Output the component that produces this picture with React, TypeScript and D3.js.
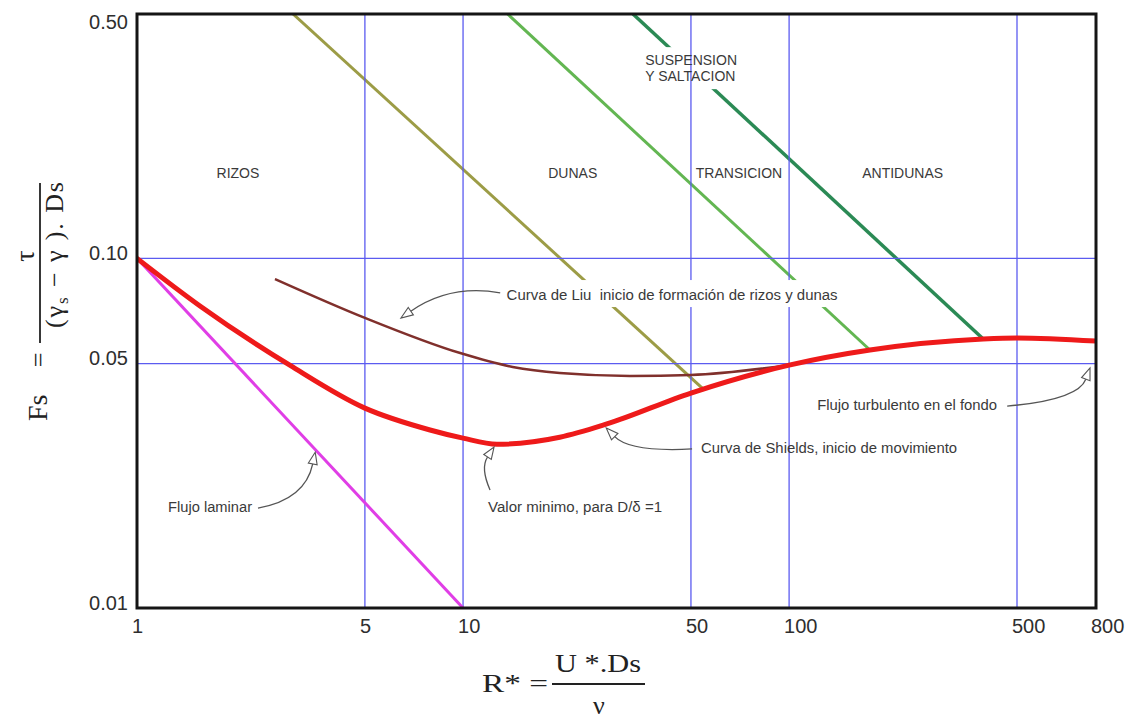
import React from 'react';
import * as d3 from 'd3';

// ---------- data (R* , Fs) ----------
const X_TICKS = [1, 5, 10, 50, 100, 500, 800];
const X_TICK_LABELS = ['1', '5', '10', '50', '100', '500', '800'];
const X_GRID = [5, 10, 50, 100, 500];
const Y_TICKS = [0.5, 0.1, 0.05, 0.01];
const Y_TICK_LABELS = ['0.50', '0.10', '0.05', '0.01'];
const Y_GRID = [0.1, 0.05];

// Curva de Shields (inicio de movimiento)
const shields: [number, number][] = [
  [1, 0.1], [1.56, 0.0731], [2.95, 0.0494], [5, 0.0373], [7.92, 0.0323],
  [10, 0.0306], [12.7, 0.0294], [19.8, 0.0308], [27.6, 0.0336], [50, 0.0412],
  [100, 0.0495], [177, 0.0547], [394, 0.0588], [500, 0.0592], [800, 0.058],
];
// Curva de Liu
const liu: [number, number][] = [
  [2.65, 0.0873], [5, 0.0676], [9.8, 0.0536], [14.2, 0.0489], [19.8, 0.047],
  [32.5, 0.0461], [50, 0.0464], [100, 0.0495],
];
// Flujo laminar
const laminar: [number, number][] = [[1, 0.1], [10, 0.01]];
// region boundaries
const limRizosDunas: [number, number][] = [[3.01, 0.5], [55, 0.042]];
const limDunasTransicion: [number, number][] = [[13.7, 0.5], [177, 0.0547]];
const limTransicionAntidunas: [number, number][] = [[33.2, 0.5], [394, 0.0588]];

const regionLabels = [
  { text: 'RIZOS', x: 2.04, y: 0.17 },
  { text: 'DUNAS', x: 21.7, y: 0.17 },
  { text: 'TRANSICION', x: 70.2, y: 0.17 },
  { text: 'ANTIDUNAS', x: 223, y: 0.17 },
];
const suspensionLines = ['SUSPENSION', 'Y SALTACION'];
const suspensionAt = { x: 36.2, y: 0.357 };

type Ann = {
  text: string; tx: number; ty: number; w: number;
  from: [number, number]; ctrl: [number, number]; to: [number, number]; bg?: boolean;
};
const annotations: Ann[] = [
  { text: 'Curva de Liu  inicio de formación de rizos y dunas', tx: 13.6, ty: 0.076, w: 331,
    from: [13.0, 0.0797], ctrl: [9.12, 0.0845], to: [6.45, 0.0675], bg: true },
  { text: 'Flujo laminar', tx: 1.245, ty: 0.0188, w: 84,
    from: [2.35, 0.0193], ctrl: [3.28, 0.0204], to: [3.52, 0.0279] },
  { text: 'Valor minimo, para D/δ =1', tx: 11.93, ty: 0.0188, w: 174,
    from: [12.1, 0.02176], ctrl: [11.3, 0.02514], to: [12.45, 0.02888] },
  { text: 'Curva de Shields, inicio de movimiento', tx: 53.7, ty: 0.02776, w: 256,
    from: [50.4, 0.0285], ctrl: [32.5, 0.0279], to: [27.5, 0.0327] },
  { text: 'Flujo turbulento en el fondo', tx: 121.9, ty: 0.0368, w: 180,
    from: [466.5, 0.0378], ctrl: [719, 0.0394], to: [772, 0.0486] },
];

const SANS = "Arial, 'Liberation Sans', Helvetica, sans-serif";
const SERIF = "'Times New Roman', 'Liberation Serif', 'DejaVu Serif', serif";

export default function App() {
  const left = 137, right = 1096, top = 14, bottom = 608;
  const x = d3.scaleLog().domain([1, 500, 800]).range([left, 1017, right]);
  const y = d3.scaleLog().domain([0.01, 0.5]).range([bottom, top]);

  const straight = d3.line<[number, number]>().x(d => x(d[0])).y(d => y(d[1]));
  const smooth = d3.line<[number, number]>().x(d => x(d[0])).y(d => y(d[1])).curve(d3.curveMonotoneX);

  const gridColor = '#5b5bf0';
  const textColor = '#3a3a3a';

  const arrow = (a: Ann, i: number) => {
    const [x0, y0] = [x(a.from[0]), y(a.from[1])];
    const [cx, cy] = [x(a.ctrl[0]), y(a.ctrl[1])];
    const [x1, y1] = [x(a.to[0]), y(a.to[1])];
    const ang = Math.atan2(y1 - cy, x1 - cx);
    const L = 12, W = 4.5;
    const bx = x1 - L * Math.cos(ang), by = y1 - L * Math.sin(ang);
    const px = -Math.sin(ang) * W, py = Math.cos(ang) * W;
    const tri = `M${x1},${y1}L${bx + px},${by + py}L${bx - px},${by - py}Z`;
    return (
      <g key={'arr' + i}>
        <path d={`M${x0},${y0}Q${cx},${cy} ${bx},${by}`} fill="none" stroke="#555" strokeWidth={1.3} />
        <path d={tri} fill="#fff" stroke="#555" strokeWidth={1.1} />
      </g>
    );
  };

  const susX = x(suspensionAt.x), susY = y(suspensionAt.y);

  return (
    <svg width={1133} height={720} style={{ position: 'absolute', left: 0, top: 0, display: 'block', background: '#fff' }}>
      <rect x={0} y={0} width={1133} height={720} fill="#fff" />
      <defs>
        <clipPath id="plot"><rect x={left} y={top} width={right - left} height={bottom - top} /></clipPath>
      </defs>

      <g clipPath="url(#plot)">
        {/* region boundary lines */}
        <path d={straight(limRizosDunas) || ''} stroke="#9c9c46" strokeWidth={3} fill="none" />
        <path d={straight(limDunasTransicion) || ''} stroke="#63b652" strokeWidth={3} fill="none" />
        <path d={straight(limTransicionAntidunas) || ''} stroke="#2b8a55" strokeWidth={3.5} fill="none" />

        {/* suspension label background */}
        <rect x={susX - 4} y={susY - 18} width={104} height={42} fill="#fff" />

        {/* grid */}
        {X_GRID.map(v => (
          <line key={'gx' + v} x1={x(v)} x2={x(v)} y1={top} y2={bottom} stroke={gridColor} strokeWidth={1.3} />
        ))}
        {Y_GRID.map(v => (
          <line key={'gy' + v} x1={left} x2={right} y1={y(v)} y2={y(v)} stroke={gridColor} strokeWidth={1.3} />
        ))}

        {/* curves */}
        <path d={straight(laminar) || ''} stroke="#e03ee6" strokeWidth={3} fill="none" />
        <path d={smooth(liu) || ''} stroke="#80302c" strokeWidth={2.5} fill="none" />
        <path d={smooth(shields) || ''} stroke="#ee1a1a" strokeWidth={5} fill="none" strokeLinecap="round" />
      </g>

      {/* region labels */}
      {regionLabels.map(r => (
        <text key={r.text} x={x(r.x)} y={y(r.y)} textAnchor="middle" fontFamily={SANS} fontSize={14} fill={textColor}>
          {r.text}
        </text>
      ))}
      {suspensionLines.map((t, i) => (
        <text key={t} x={susX} y={susY + i * 16} fontFamily={SANS} fontSize={14} fill={textColor}>{t}</text>
      ))}

      {/* annotations */}
      {annotations.map((a, i) => {
        const tx = x(a.tx), ty = y(a.ty);
        return (
          <g key={'ann' + i}>
            {a.bg && <rect x={tx - 8} y={ty - 20} width={a.w + 14} height={27} fill="#fff" />}
            <text x={tx} y={ty} fontFamily={SANS} fontSize={14} fill={textColor} style={{ whiteSpace: 'pre' }}
              textLength={a.w} lengthAdjust="spacingAndGlyphs">{a.text}</text>
          </g>
        );
      })}
      {annotations.map(arrow)}

      {/* frame */}
      <rect x={left} y={top} width={right - left} height={bottom - top} fill="none" stroke="#151515" strokeWidth={3} />

      {/* ticks */}
      {Y_TICKS.map((v, i) => (
        <text key={'yt' + v} x={128} y={Math.max(y(v) + 1.5, top + 15)} textAnchor="end"
          fontFamily={SANS} fontSize={20} fill="#2e2e2e">{Y_TICK_LABELS[i]}</text>
      ))}
      {X_TICKS.map((v, i) => (
        <text key={'xt' + v} x={x(v) - 5} y={633} fontFamily={SANS} fontSize={20} fill="#2e2e2e">{X_TICK_LABELS[i]}</text>
      ))}

      {/* x axis title */}
      <g fontFamily={SERIF} fill="#222">
        <text x={482} y={692} fontSize={26} textLength={66} lengthAdjust="spacingAndGlyphs">R* =</text>
        <line x1={552} x2={645} y1={684} y2={684} stroke="#222" strokeWidth={1.8} />
        <text x={598} y={672} fontSize={26} textAnchor="middle" textLength={86} lengthAdjust="spacingAndGlyphs">U *.Ds</text>
        <text x={599} y={714} fontSize={26} textAnchor="middle">ν</text>
      </g>

      {/* y axis title */}
      <g fontFamily={SERIF} fill="#222" transform="translate(40,263) rotate(-90)">
        <text x={-158} y={7} fontSize={28}>Fs</text>
        <text x={-97} y={7} fontSize={26} textAnchor="middle">=</text>
        <line x1={-80} x2={80} y1={0} y2={0} stroke="#222" strokeWidth={1.8} />
        <text x={7} y={-6} fontSize={28} textAnchor="middle">τ</text>
        <text x={-65} y={23} fontSize={26} textLength={146} lengthAdjust="spacing">
          (γ<tspan dy={5} fontSize={17}>s</tspan><tspan dy={-5}> − γ ). Ds</tspan>
        </text>
      </g>
    </svg>
  );
}
